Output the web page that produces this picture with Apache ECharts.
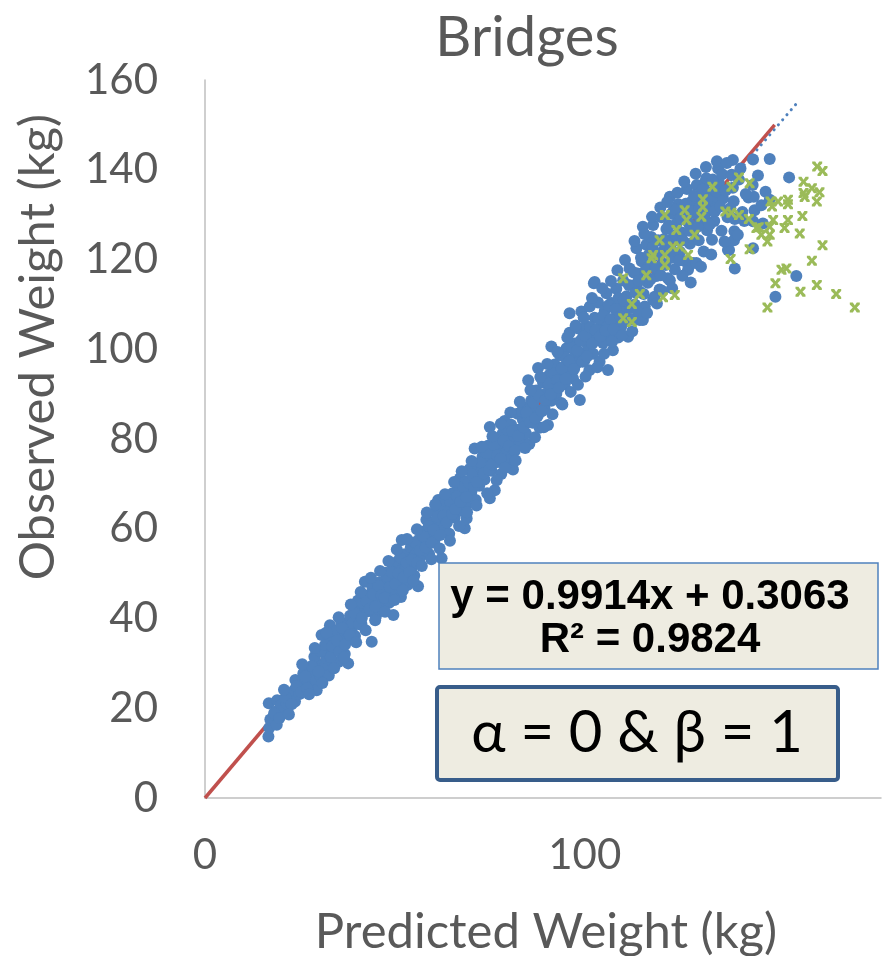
<!DOCTYPE html>
<html><head><meta charset="utf-8">
<script src="https://cdn.jsdelivr.net/npm/echarts@6/dist/echarts.min.js"></script>
<style>html,body{margin:0;padding:0;background:#fff}#c{width:884px;height:956px}</style>
</head><body><div id="c"></div>
<script>
// ---- data ----
const titleText = 'Bridges';
const xTitle = 'Predicted Weight (kg)';
const yTitle = 'Observed Weight (kg)';
const xTickLabels = [0, 100];
const yTickLabels = [0, 20, 40, 60, 80, 100, 120, 140, 160];
const equationText = ['y = 0.9914x + 0.3063', 'R² = 0.9824'];
const hypothesisText = 'α = 0 & β = 1';

// 1:1 reference line (alpha = 0, beta = 1)
const refLine = [[0, 0], [150, 150]];
// fitted trend line (dotted) end points
const trendLine = [[16.7, 16.9], [155.8, 154.8]];

// observed vs predicted (blue dots)
const blueLow = [
 [16.7,13.7],[16.9,15.6],[17.2,17.5],[16.8,21.1],[18.9,16.3],[18.5,19.2],[19.0,21.8],[20.2,19.4],[20.0,20.6],[21.5,21.0],[22.3,22.5],[23.7,21.5],[23.5,24.0],[23.8,26.3],[24.5,25.1],[25.9,27.8],[24.9,23.2],
 [27.0,26.0],[27.8,28.6],[28.5,24.3],[29.4,24.0],[29.1,26.5],[29.6,29.9],[28.8,31.5],[30.2,27.5],[30.7,36.3],[31.0,33.0],[31.4,29.0],[31.9,31.2],[32.3,34.6],[32.9,38.5],[32.6,27.3],[33.4,30.5],[33.8,35.9],[34.2,33.2],[34.7,37.3],[35.1,30.3],[35.5,34.7],[35.9,39.1],[36.4,36.6],[36.8,32.1],[37.3,35.3],[37.7,38.9],[37.7,30.0],[38.2,40.6],[38.6,37.2],[39.1,42.7],[39.5,36.1],[39.9,39.6],[40.3,44.0],[40.8,41.7]
];
const blueMidLow = [
 [41.2,38.8],[41.6,43.4],[42.1,48.2],[42.4,45.1],[42.9,41.6],[43.3,44.0],[43.9,34.8],[44.1,46.9],[44.6,43.2],[45.0,40.5],[45.4,45.6],[45.9,48.0],[46.3,44.3],[46.7,42.1],[47.2,47.1],[47.6,50.2],[48.1,45.8],[48.5,43.5],[48.9,48.6],[49.4,51.9],[49.6,40.8],[49.8,46.5],[50.3,49.3],[50.7,52.7],[51.2,48.0],[51.6,44.8],[51.8,57.5],[52.0,50.8],[52.5,54.3],[52.9,51.1],[53.4,47.5],[53.8,53.0],[54.2,55.9],[54.7,51.7],[55.1,49.6],[55.5,54.4],[56.1,47.2],
 [56.4,57.6],[56.8,53.8],[57.3,55.8],[57.8,59.4],[58.3,62.0],[58.6,56.6],[59.0,54.4],[59.5,58.5],[59.9,61.3],[60.4,57.3],[60.8,63.7],[61.4,66.4],[61.6,59.8],[62.1,61.9],[62.3,53.4],[62.6,64.3],[63.0,60.2],[63.5,66.2],[63.9,62.8],[64.3,58.9],[64.8,64.7],[65.2,67.9],[65.7,62.5],[66.1,65.8],[66.6,69.6],[67.1,71.2],[67.4,64.0],[67.9,67.3],[68.4,60.1],[68.9,62.3],[68.6,70.5],[69.2,65.6],[69.7,73.3],[70.1,68.1]
];
const blueMid = [
 [70.6,70.9],[71.0,77.9],[71.3,66.4],[71.8,74.2],[72.2,69.6],[72.7,72.6],[73.1,76.1],[73.6,71.0],[74.0,74.6],[74.5,78.5],[75.0,66.8],[75.0,82.7],[75.4,72.9],[75.8,76.3],[76.3,68.6],[76.6,80.0],[77.1,74.9],[77.5,78.1],[78.0,72.2],[78.4,81.3],[78.9,84.0],[79.3,77.0],[79.7,79.9],[80.2,75.3],[80.6,83.2],[81.1,73.2],[81.4,80.5],[81.9,78.2],[82.3,85.6],[82.8,82.1],[83.2,79.4],[83.7,84.3],[84.1,87.0],[84.5,81.2],[85.1,93.1],[85.0,84.8],[85.4,78.9],[85.9,88.6],[86.3,83.6],[86.8,86.7],[87.2,90.8],[87.7,95.8],[87.6,85.1],[88.1,82.5],[88.5,89.4],[89.0,92.6],[89.4,86.9],[89.9,90.2],[90.3,83.1],
 [90.7,94.3],[91.2,100.6],[91.2,88.5],[91.6,92.0],[92.1,96.6],[92.5,90.1],[93.0,94.5],[93.4,98.7],[93.8,88.0],[94.3,96.0],[94.7,92.2],[95.2,100.2],[95.6,95.2],[96.0,108.0],[96.0,103.7],[96.5,97.9],[96.9,93.5],[97.4,101.3],[97.8,96.8],[98.3,104.6],[98.7,88.7],[98.6,99.2],[99.1,108.4],[99.5,102.6],[99.9,97.5],[100.4,105.2],[100.8,100.9],[101.3,109.5],[101.2,95.3],[101.7,103.8],[102.2,99.0],[102.4,114.7],[102.6,115.0],[102.6,107.0],[103.1,102.1],[103.5,110.4],[103.9,97.2],[104.4,105.6],[104.8,101.4],[105.3,108.7],[105.7,112.5],[106.1,95.4],[106.1,105.4],[106.6,103.0],[107.0,110.3],[107.4,99.8],[107.9,106.9],[108.3,113.5],[108.8,102.6],[109.2,109.5],[109.6,105.1],[110.1,115.3],[110.5,108.3]
];
const blueHigh = [
 [111.0,111.8],[111.4,102.8],[111.8,118.0],[112.3,106.7],[112.7,114.2],[113.2,110.0],[113.6,122.5],[113.9,116.9],[114.5,106.5],[114.5,112.8],[115.0,119.6],[115.3,127.3],[115.3,106.5],[115.8,109.5],[116.2,123.3],[116.6,114.8],[117.1,118.6],[117.5,125.0],[118.0,111.0],[118.0,127.7],[118.4,111.7],[118.4,120.9],[118.9,116.3],[119.3,124.3],[119.7,113.3],[120.2,129.4],[120.6,119.1],[121.1,122.6],[121.5,126.8],[121.9,115.8],[122.4,115.4],[122.4,134.0],[122.8,130.2],[122.9,120.4],[123.3,124.9],[123.7,117.8],[124.2,128.1],[124.6,132.3],
 [125.1,121.7],[125.5,126.0],[126.0,130.3],[126.4,119.6],[126.9,135.7],[127.2,117.7],[127.3,128.2],[127.7,123.5],[128.2,132.9],[128.5,119.2],[128.6,126.3],[129.1,130.2],[129.4,119.2],[129.5,136.6],[130.0,124.3],[130.4,128.5],[130.9,133.2],[131.3,121.8],[131.7,137.2],[132.0,138.1],[132.2,126.5],[132.6,130.9],[133.1,135.0],[133.5,124.4],[134.1,133.0],[134.1,128.6],[134.3,130.8],[135.1,140.3],[135.3,137.1],[136.0,126.4],[136.4,133.6],[137.7,122.1],[138.0,122.1],[138.3,131.4],[139.0,142.2],[139.0,136.0],[139.2,133.0],[139.5,129.0],[139.4,126.3],[139.3,124.3],[139.5,118.0],[140.6,137.8],[141.5,130.6],[143.1,133.8],[144.3,142.3],[144.2,136.6],[144.5,134.0],[144.7,131.0],[144.3,128.5],[144.3,122.5],[146.5,132.1],[146.9,128.0],[148.7,133.3],[148.7,142.4],[150.2,111.7],[153.8,138.3],[155.7,116.3]
];
const blueCore = [
 [18.2,18.9],[19.6,17.8],[21.2,22.4],[22.8,20.9],[24.1,24.9],[25.3,23.6],[26.4,27.1],[26.9,24.4],[28.1,29.4],[29.9,28.2],[30.4,32.7],[31.6,34.1],[33.1,31.4],[33.5,33.8],[34.8,35.1],[35.4,32.6],[36.1,37.9],[36.9,34.2],[38.1,36.3],[38.9,39.0],[39.4,41.2],[40.6,38.7],[41.3,40.1],[42.6,43.9],[43.4,42.1],[44.3,45.4],[44.9,42.7],[45.7,47.3],[46.5,45.2],[47.3,44.6],[47.9,49.4],[48.7,47.0],[49.2,50.3],[50.1,47.7],[50.9,50.0],[51.4,53.6],[52.3,49.2],[53.1,52.4],[53.9,50.3],[54.5,53.1],[55.3,57.0],[55.9,52.4],[56.6,55.2],[57.5,58.3],[58.1,55.9],[58.9,60.6],[59.7,56.9],[60.2,59.8],[61.1,62.7],[61.9,58.6],[62.8,62.9],[63.7,61.4],[64.6,66.1],[65.1,63.3],[65.9,64.4],[66.4,67.2],[67.3,66.0],[68.1,69.3],[68.8,67.1],[69.5,70.2],
 [70.3,72.1],[70.9,69.4],[71.6,70.4],[72.4,74.8],[73.4,72.3],[74.2,76.9],[74.8,73.1],[75.6,74.3],[76.1,78.6],[76.9,76.4],[77.8,75.6],[78.6,79.6],[79.5,82.1],[80.0,78.4],[80.9,81.8],[81.6,77.4],[82.5,80.7],[83.4,86.2],[83.9,82.6],[84.7,85.9],[85.6,83.8],[86.5,88.2],[87.0,84.6],[87.9,89.7],[88.7,86.2],[89.6,88.7],[90.5,92.3],[91.0,89.9],[91.9,94.6],[92.7,93.1],[93.2,91.4],[93.9,95.7],[94.6,98.3],[95.0,93.4],[95.9,97.3],[96.7,100.4],[97.2,95.6],[98.0,99.8],[98.9,101.9],[99.4,97.2],[100.1,103.0],[100.6,98.4],[101.5,104.9],[102.0,101.3],[102.9,104.3],[103.6,106.8],[104.1,102.9],[104.9,107.6],[105.5,104.2],[106.3,109.8],[106.8,106.7],[107.6,104.5],[108.1,108.9],[108.9,111.4],[109.4,107.3],[110.3,110.9],[110.8,106.4],
 [111.6,114.3],[112.1,109.2],[112.9,117.1],[113.4,112.6],[114.2,115.3],[114.8,120.4],[115.5,112.3],[116.0,117.6],[116.8,121.0],[117.3,115.6],[117.9,122.7],[118.7,118.2],[119.5,121.3],[120.0,116.5],[120.8,124.5],[121.3,118.8],[122.1,127.6],[122.6,122.3],[123.5,131.2],[124.0,125.5],[124.8,119.8],[125.3,129.3],[125.8,124.3],[126.6,132.4],[127.5,126.4],[128.0,130.8],[128.8,134.2],[129.7,127.3],[130.2,131.5],[131.0,135.6],[131.5,129.4],[132.4,133.5],[132.9,127.8],[133.7,137.8],[134.6,135.2],[135.6,131.8],[136.2,139.0],[137.1,135.4],[137.6,129.4],[138.7,138.9]
];
const blueSpread = [
 [20.8,24.1],[22.1,18.6],[25.6,29.8],[27.4,23.1],[28.9,33.4],[30.9,25.6],[32.0,36.9],[34.0,28.9],[35.2,40.3],[36.6,31.3],[38.4,43.1],[39.8,34.7],[41.0,45.9],[42.3,37.4],[43.7,49.1],[44.8,39.6],[46.1,50.6],[47.4,41.5],[48.3,52.8],[49.9,44.1],[50.5,55.4],[52.1,46.3],[53.2,57.7],[54.9,48.4],[55.8,59.9],[57.1,51.7],[58.4,63.6],[59.6,53.2],[60.6,65.4],[61.8,55.6],[63.2,67.7],[64.5,57.3],[65.6,70.4],[66.9,60.6],[67.6,72.8],[69.0,63.7],[70.2,75.1],[71.5,65.2],[72.9,78.3],[74.3,67.9],[75.7,80.6],[76.8,70.8],[77.9,83.4],[79.0,73.6],[80.4,85.9],[81.8,75.2],[82.9,88.3],[84.3,78.0],[85.7,90.9],[86.9,80.4],[88.3,93.8],[89.2,82.6],[90.1,96.7],[91.5,85.5],[92.8,99.4],[94.1,87.7],[95.4,102.6],[96.3,90.5],[97.6,105.3],[98.2,92.1],[99.7,107.1],[100.2,93.9],[101.9,111.4],[103.3,96.0],[104.6,113.6],[105.1,99.0],[106.9,115.2],[107.2,101.7],[108.6,117.6],[109.9,103.2],[110.6,119.9],[112.5,104.0],[113.1,124.1],[114.0,108.4],[115.7,125.7],[116.4,108.1],[117.7,129.5],[119.0,110.2],[119.9,131.6],[120.4,113.0],[121.7,132.8],[123.0,113.6],[124.4,134.9],[125.7,116.4],[126.2,137.4],[127.9,114.9],[129.2,139.1],[130.6,118.4],[131.9,140.6],[133.3,121.1],[134.8,141.9],[136.8,124.0],[137.4,141.5],[141.0,140.3],[142.4,134.6],[145.6,138.7],[147.6,135.1],[140.3,125.5],[142.0,128.6]
];
// green crosses
const greenPoints = [
 [161.2,140.7],[162.6,139.7],[157.6,137.3],[159.8,135.9],[161.8,135.0],[157.6,134.8],[157.9,133.9],[161.1,132.9],[153.5,133.3],[153.5,132.3],[150.9,132.9],[148.9,132.9],[149.3,131.8],[157.3,129.7],[153.5,128.8],[152.6,127.0],[149.6,128.8],[148.7,127.3],[145.8,127.2],[146.5,125.5],[148.7,125.5],[148.1,124.0],[156.6,125.8],[143.2,129.0],[140.6,129.9],[138.6,130.4],[137.0,130.7],[143.4,137.0],[138.6,136.2],[133.6,136.2],[140.6,138.3],[162.6,123.2],[159.8,119.7],[153.1,118.0],[151.8,117.7],[150.2,114.7],[161.1,114.3],[156.8,112.8],[166.2,112.3],[148.1,109.3],[171.1,109.3],[143.4,122.3],[138.4,120.1],[131.1,133.4],[131.1,131.7],[130.7,129.5],[126.3,131.0],[126.8,128.8],[124.1,126.6],[128.9,125.5],[121.1,129.9],[119.7,124.3],[123.2,122.9],[125.0,122.9],[118.0,121.0],[117.6,120.3],[121.1,121.0],[127.2,121.0],[121.1,118.8],[116.2,116.5],[110.1,115.8],[114.5,112.3],[112.4,110.1],[120.6,111.6],[123.7,112.1],[110.1,106.9],[112.4,106.1],[145.2,127.0]
];

const bluePoints = blueLow.concat(blueMidLow, blueMid, blueHigh, blueCore, blueSpread);
const xPath = 'path://M0,0 L3,0 L5,3 L7,0 L10,0 L10,2 L7,5 L10,8 L10,10 L7,10 L5,7 L3,10 L0,10 L0,8 L3,5 L0,2 Z';
const sansFont = 'Lato, "Noto Sans", sans-serif';

const chart = echarts.init(document.getElementById('c'), null, {renderer: 'canvas'});
chart.setOption({
  animation: false,
  backgroundColor: '#ffffff',
  grid: {left: 205, right: 2, top: 80, bottom: 158},
  xAxis: {
    type: 'value', min: 0, max: 178, interval: 100,
    axisLine: {show: true, lineStyle: {color: '#BFBFBF', width: 1.5}},
    axisTick: {show: false}, splitLine: {show: false},
    axisLabel: {color: '#595959', fontSize: 42, fontFamily: sansFont, margin: 36,
      formatter: v => (xTickLabels.indexOf(v) >= 0 ? String(v) : '')}
  },
  yAxis: {
    type: 'value', min: 0, max: 160, interval: 20,
    axisLine: {show: true, lineStyle: {color: '#BFBFBF', width: 1.5}},
    axisTick: {show: false}, splitLine: {show: false},
    axisLabel: {color: '#595959', fontSize: 42, fontFamily: sansFont, margin: 47,
      formatter: v => (yTickLabels.indexOf(v) >= 0 ? String(v) : '')}
  },
  series: [
    {type: 'line', data: refLine, symbol: 'none', z: 1, silent: true,
     lineStyle: {color: '#C0504D', width: 3.5}},
    {type: 'line', data: trendLine, symbol: 'none', z: 1, silent: true,
     lineStyle: {color: '#4F81BD', width: 3, type: [0.1, 6.5], cap: 'round'}},
    {type: 'scatter', data: bluePoints, symbol: 'circle', symbolSize: 12, z: 2,
     itemStyle: {color: '#4F81BD', opacity: 1}},
    {type: 'scatter', data: greenPoints, symbol: xPath, symbolSize: 10, z: 3,
     itemStyle: {color: '#9BBB59', opacity: 1}}
  ],
  graphic: [
    {type: 'text', x: 527, y: 38, z: 10,
     style: {text: titleText, fill: '#595959', font: '56px ' + sansFont, align: 'center', verticalAlign: 'middle'}},
    {type: 'text', x: 546, y: 932, z: 10,
     style: {text: xTitle, fill: '#595959', font: '49px ' + sansFont, align: 'center', verticalAlign: 'middle'}},
    {type: 'text', x: 38, y: 347, rotation: Math.PI / 2, z: 10,
     style: {text: yTitle, fill: '#595959', font: '49px ' + sansFont, align: 'center', verticalAlign: 'middle'}},
    {type: 'rect', z: 10, shape: {x: 439, y: 563, width: 439, height: 106},
     style: {fill: '#EEECE1', stroke: '#4F81BD', lineWidth: 1.5}},
    {type: 'text', x: 650, y: 597, z: 11,
     style: {text: equationText[0], fill: '#000', font: 'bold 42px "Liberation Sans", Arial, sans-serif', align: 'center', verticalAlign: 'middle'}},
    {type: 'text', x: 650, y: 640, z: 11,
     style: {text: equationText[1], fill: '#000', font: 'bold 42px "Liberation Sans", Arial, sans-serif', align: 'center', verticalAlign: 'middle'}},
    {type: 'rect', z: 10, shape: {x: 437, y: 687, width: 401, height: 93, r: 3},
     style: {fill: '#EEECE1', stroke: '#385D8A', lineWidth: 4}},
    {type: 'text', x: 637, y: 733, z: 11,
     style: {text: hypothesisText, fill: '#000', font: '58px ' + sansFont, align: 'center', verticalAlign: 'middle'}}
  ]
});
</script></body></html>
